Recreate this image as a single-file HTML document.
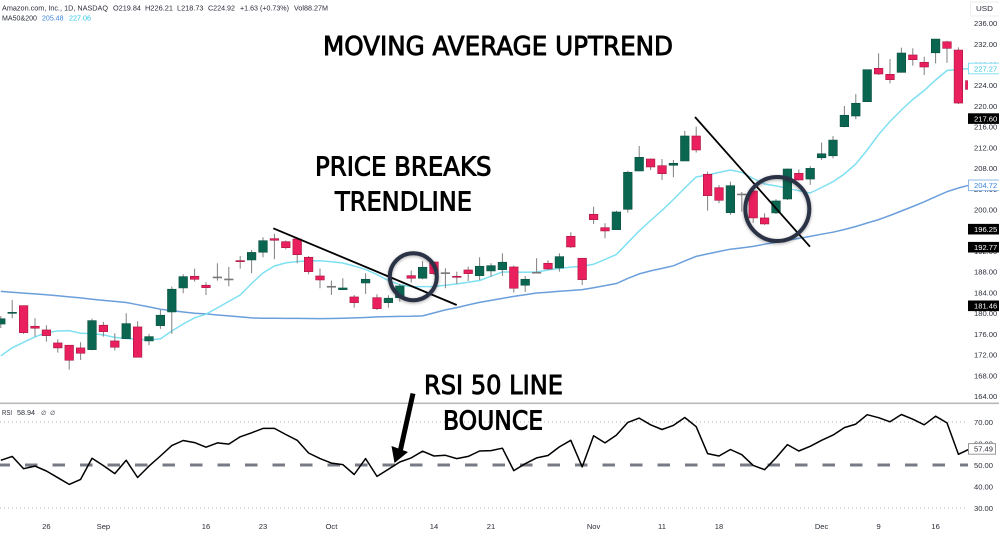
<!DOCTYPE html>
<html lang="en">
<head>
<meta charset="utf-8">
<title>Moving Average Uptrend</title>
<style>
html,body{margin:0;padding:0;background:#fff;width:999px;height:533px;overflow:hidden}
svg{display:block}
.ax{font-family:"Liberation Sans",sans-serif;font-size:7.6px;fill:#2a2e39}
.big{font-family:"DejaVu Sans","Liberation Sans",sans-serif;font-size:26px;fill:#000;stroke:#000;stroke-width:.9}
</style>
</head>
<body>
<svg id="chart" width="999" height="533" viewBox="0 0 999 533" xmlns="http://www.w3.org/2000/svg">
  <defs>
    <clipPath id="priceClip"><rect x="0" y="0" width="968" height="402"></rect></clipPath>
    <clipPath id="rsiClip"><rect x="0" y="405" width="968" height="110"></rect></clipPath>
    <filter id="ringShadow" x="-20%" y="-20%" width="140%" height="140%"><feDropShadow dx="0" dy="1" stdDeviation="1.5" flood-color="#000" flood-opacity="0.35"></feDropShadow></filter>
  </defs>
  <g id="priceAxis"></g>
  <g id="rsiAxis"></g>
  <g id="timeAxis"></g>
  <rect x="0" y="402.5" width="999" height="1.6" fill="#b8b8b8"></rect>
  <g id="maLines" clip-path="url(#priceClip)"></g>
  <g id="candles" clip-path="url(#priceClip)"></g>
  <g id="rsiPane" clip-path="url(#rsiClip)"></g>
  <g id="tags"></g>

  <rect x="970.5" y="2" width="29" height="14" fill="#fff" stroke="#eeeeee"></rect>
  <text class="ax" x="976" y="11" textLength="17" lengthAdjust="spacingAndGlyphs">USD</text>

  <g>
    <text class="ax" x="2" y="10.7" textLength="106" lengthAdjust="spacingAndGlyphs">Amazon.com, Inc., 1D, NASDAQ</text>
    <text class="ax" x="113" y="10.7" textLength="28" lengthAdjust="spacingAndGlyphs">O219.84</text>
    <text class="ax" x="145" y="10.7" textLength="28" lengthAdjust="spacingAndGlyphs">H226.21</text>
    <text class="ax" x="177" y="10.7" textLength="26.5" lengthAdjust="spacingAndGlyphs">L218.73</text>
    <text class="ax" x="208" y="10.7" textLength="27" lengthAdjust="spacingAndGlyphs">C224.92</text>
    <text class="ax" x="240" y="10.7" textLength="49" lengthAdjust="spacingAndGlyphs">+1.63 (+0.73%)</text>
    <text class="ax" x="294" y="10.7" textLength="34" lengthAdjust="spacingAndGlyphs">Vol88.27M</text>
    <text class="ax" x="2" y="20.7" textLength="35" lengthAdjust="spacingAndGlyphs">MA50&amp;200</text>
    <text class="ax" x="42" y="20.7" textLength="21.5" lengthAdjust="spacingAndGlyphs" style="fill:#3d85e0">205.48</text>
    <text class="ax" x="69" y="20.7" textLength="22" lengthAdjust="spacingAndGlyphs" style="fill:#2cc8ee">227.06</text>
    <text class="ax" x="2" y="415" textLength="10" lengthAdjust="spacingAndGlyphs">RSI</text>
    <text class="ax" x="17" y="415" textLength="18" lengthAdjust="spacingAndGlyphs">58.94</text>
    <text class="ax" x="41" y="415" style="font-family:'DejaVu Sans',sans-serif;font-size:6px">∅</text>
    <text class="ax" x="50" y="415" style="font-family:'DejaVu Sans',sans-serif;font-size:6px">∅</text>
  </g>

  <line x1="273.3" y1="228.3" x2="456.7" y2="305" stroke="#000" stroke-width="1.8"></line>
  <line x1="695" y1="117" x2="810" y2="246.7" stroke="#000" stroke-width="1.8"></line>
  <circle cx="413.3" cy="276.7" r="23.5" fill="none" stroke="#2b3044" stroke-width="4" filter="url(#ringShadow)"></circle>
  <circle cx="777.3" cy="209" r="32" fill="none" stroke="#2b3044" stroke-width="4" filter="url(#ringShadow)"></circle>

  <g>
    <line x1="413" y1="393.5" x2="400" y2="452" stroke="#000" stroke-width="5"></line>
    <polygon points="391.5,446 408,452 394.5,463" fill="#000"></polygon>
  </g>

  <text class="big" x="323" y="55" textLength="350" lengthAdjust="spacingAndGlyphs">MOVING AVERAGE UPTREND</text>
  <text class="big" x="315" y="175.7" textLength="176.5" lengthAdjust="spacingAndGlyphs">PRICE BREAKS</text>
  <text class="big" x="335" y="210.7" textLength="137" lengthAdjust="spacingAndGlyphs">TRENDLINE</text>
  <text class="big" x="424" y="394" textLength="139" lengthAdjust="spacingAndGlyphs">RSI 50 LINE</text>
  <text class="big" x="443" y="429.3" textLength="100" lengthAdjust="spacingAndGlyphs">BOUNCE</text>
</svg>
<script>
const opens = [177.94,180.0,181.49,177.51,176.8,174.29,173.85,173.33,173.0,177.71,174.68,175.12,177.38,174.68,177.63,180.27,184.91,187.16,185.43,187.03,186.64,190.18,190.31,191.8,194.42,193.84,194.36,190.83,187.22,185.23,184.58,183.17,185.87,183.03,182.07,183.03,187.28,186.78,189.92,187.86,187.16,188.38,187.28,188.19,188.44,188.96,185.43,187.94,189.67,188.77,194.88,190.64,199.13,196.54,196.16,200.09,207.49,209.8,208.51,208.59,209.42,214.24,206.85,204.26,199.44,203.05,203.63,198.42,199.39,202.08,207.04,205.93,210.04,210.42,216.04,218.1,220.86,227.31,226.15,226.53,229.88,228.47,230.3,232.43,230.83,224.92];
const highs = [179.49,182.6,181.49,179.06,177.71,175.0,173.85,174.43,178.98,178.34,176.16,180.02,178.48,176.03,180.66,185.16,187.55,188.63,186.01,189.67,188.96,191.08,192.24,194.69,195.38,194.08,194.69,191.08,188.63,186.32,186.78,183.55,187.74,183.69,183.5,185.68,188.25,190.12,190.02,188.71,188.05,189.02,190.83,189.67,191.6,189.21,187.22,190.64,190.25,191.6,195.66,190.7,200.6,197.39,199.82,207.54,212.31,209.9,209.8,209.61,215.21,216.03,207.35,204.78,205.42,203.43,203.82,199.32,202.03,207.97,207.78,208.43,212.99,214.22,220.03,222.33,227.04,230.2,229.1,231.29,231.17,229.55,232.95,232.62,231.35,224.98];
const lows = [177.17,179.06,176.03,175.51,174.54,172.42,169.14,171.01,172.88,175.51,172.81,175.06,171.53,173.85,177.0,176.03,183.88,186.12,183.55,186.32,185.23,188.63,187.74,190.83,190.45,192.37,189.67,187.55,184.85,183.55,184.52,181.1,183.75,180.66,181.1,182.26,185.93,186.58,187.42,184.85,185.68,186.26,186.45,187.09,187.22,184.0,184.13,187.74,188.38,188.05,192.63,185.48,197.26,194.5,196.1,199.44,207.49,207.68,205.75,206.27,209.42,211.04,199.83,201.25,199.0,199.63,197.45,197.07,199.19,201.89,205.65,204.79,209.61,209.94,215.92,217.47,220.8,226.01,224.41,226.53,227.81,226.01,228.25,228.38,220.41,223.24];
const closes = [178.96,180.2,176.28,177.13,175.7,173.33,170.95,172.3,178.6,176.47,173.46,178.02,171.53,175.51,179.64,184.66,187.09,186.58,184.96,187.03,186.64,189.98,191.76,194.03,194.11,192.68,191.33,188.05,186.45,185.23,184.9,182.07,186.58,180.91,182.92,185.29,186.78,188.9,187.67,187.86,186.97,187.67,189.09,189.21,189.87,184.85,186.58,187.94,188.57,190.95,192.82,186.51,198.09,195.91,199.57,207.23,210.13,208.26,206.97,208.97,214.24,211.54,202.72,201.83,204.65,203.05,198.42,197.26,201.7,207.87,205.75,207.99,210.81,213.45,218.24,220.55,227.04,226.21,225.11,230.26,228.97,227.56,232.95,231.16,220.6,223.24];
const maFast = [171.78,173.36,174.41,175.45,176.30,176.59,176.67,176.16,176.09,175.85,175.35,175.14,174.97,174.87,175.06,176.6,177.95,179.15,179.83,181.05,182.3,183.55,185.77,187.8,189.15,189.75,190.02,190.12,190.14,189.98,189.73,189.15,188.48,187.49,186.35,185.54,185.16,185.16,185.18,185.43,185.68,186.01,186.35,187.18,187.99,187.97,187.95,187.99,188.38,188.67,188.94,189.11,189.48,190.41,191.36,193.65,195.91,197.92,199.87,201.99,204.21,206.33,206.72,207.22,207.68,207.22,206.04,204.98,204.6,204.15,203.67,203.24,204.3,205.42,206.91,208.84,211.54,214.53,217.04,219.26,221.29,223.03,225.05,226.88,227.07,227.27];
const maSlow = [184.24,184.09,183.91,183.76,183.6,183.39,183.17,182.98,182.74,182.51,182.3,182.09,181.68,181.24,180.8,180.53,180.27,180.02,179.89,179.69,179.5,179.31,179.13,179.06,179.04,179.02,179.02,179.0,178.98,179.0,179.06,179.12,179.21,179.31,179.37,179.41,179.44,179.5,180.08,180.66,181.12,181.63,182.11,182.51,182.88,183.27,183.61,183.94,184.09,184.27,184.42,184.58,184.96,185.35,185.77,186.74,187.61,188.19,188.67,189.19,190.12,190.99,191.47,191.95,192.38,192.63,192.92,193.35,193.73,194.13,194.47,194.85,195.28,195.66,196.18,196.76,197.45,198.11,198.9,199.77,200.62,201.54,202.53,203.49,204.21,204.78];
const rsiValues = [52.2,54.0,48.3,49.5,47.2,44.1,41.0,43.3,53.1,49.7,46.0,52.2,44.2,49.5,54.2,59.0,61.4,60.4,58.3,60.3,59.7,63.1,65.0,67.0,67.0,64.2,61.5,55.6,53.0,50.9,50.2,45.6,53.0,44.7,48.0,51.4,53.3,56.4,54.2,54.5,53.0,54.0,56.5,56.7,57.8,47.4,50.6,53.3,54.4,58.4,61.5,49.1,63.6,60.3,63.9,69.8,71.8,68.7,66.5,68.4,72.1,67.8,55.3,54.2,57.2,54.8,49.8,47.8,53.3,59.5,56.5,58.7,61.5,63.9,67.4,69.0,73.4,72.0,70.1,73.5,71.3,68.7,72.7,69.6,55.0,57.49];
const priceTicks = [236,232,228,224,220,216,212,208,204,200,196,192,188,184,180,176,172,168,164];
const rsiTicks = [70,60,50,40,30];
const rsiGuides = [70,30];
const rsiMidline = 50;
const timeLabels = ["26","Sep","16","23","Oct","14","21","Nov","11","18","Dec","9","16"];
const timeBars = [4,9,18,23,29,38,43,52,58,63,72,77,82];
const darkTags = [217.60,196.25,192.77,181.46];
const maFastTag = 227.27;
const maSlowTag = 204.72;
const rsiTag = 57.49;

const NS = "http://www.w3.org/2000/svg";
function xBar(i){ return 0.8 + 11.4 * i; }
function yPrice(p){ return 44 + (232 - p) * 5.18; }
function yRsi(v){ return 465 - (v - 50) * 2.15; }
function mk(tag, attrs, parent){
  const el = document.createElementNS(NS, tag);
  for (const k in attrs) el.setAttribute(k, attrs[k]);
  parent.appendChild(el);
  return el;
}
function label(parent, x, y, txt, fill, anchor){
  const t = mk("text", {x: x, y: y, "class": "ax", "text-anchor": anchor || "start", "style": "fill:" + (fill || "#2a2e39")}, parent);
  t.textContent = txt;
  return t;
}
const gPriceAxis = document.getElementById("priceAxis");
const gRsiAxis = document.getElementById("rsiAxis");
const gTimeAxis = document.getElementById("timeAxis");
const gMa = document.getElementById("maLines");
const gCandles = document.getElementById("candles");
const gRsi = document.getElementById("rsiPane");
const gTags = document.getElementById("tags");

priceTicks.forEach(function(p){
  const t = label(gPriceAxis, 974, yPrice(p) + 2.8, p.toFixed(2));
  
  
});
rsiTicks.forEach(function(v){
  const t = label(gRsiAxis, 974, yRsi(v) + 2.8, v.toFixed(2));
  
  
});
timeLabels.forEach(function(s, k){
  const t = label(gTimeAxis, xBar(timeBars[k]), 529, s, "#2a2e39", "middle");
  
  
});

function linePath(vals, yFn){
  return vals.map(function(v, i){ return (i ? "L" : "M") + xBar(i).toFixed(1) + " " + yFn(v).toFixed(1); }).join(" ");
}
const slowLine = mk("path", {d: linePath(maSlow, yPrice), fill: "none", stroke: "#6a9fdc", "stroke-width": 1.5}, gMa);


const fastLine = mk("path", {d: linePath(maFast, yPrice), fill: "none", stroke: "#7fe0f2", "stroke-width": 1.5}, gMa);



opens.forEach(function(o, i){
  const c = closes[i], x = xBar(i);
  const up = c > o, flat = c === o;
  const fill = flat ? "#777777" : (up ? "#0b6651" : "#ea1f5e");
  const edge = flat ? "#777777" : (up ? "#0a4f40" : "#a5173f");
  const wick = mk("line", {x1: x, x2: x, y1: yPrice(highs[i]), y2: yPrice(lows[i]), stroke: "#808080", "stroke-width": 1}, gCandles);
  
  
  const top = yPrice(Math.max(o, c));
  const h = Math.max(Math.abs(yPrice(o) - yPrice(c)), 1);
  const body = mk("rect", {x: x - 4.3, y: top, width: 8.6, height: h, fill: fill, stroke: edge, "stroke-width": 0.6}, gCandles);
  
  
});

rsiGuides.forEach(function(v){
  const g = mk("line", {x1: 0, x2: 968, y1: yRsi(v), y2: yRsi(v), stroke: "#b5b5b5", "stroke-width": 1, "stroke-dasharray": "1 3"}, gRsi);
  
  
});
const mid = mk("line", {x1: -2.5, x2: 968, y1: yRsi(rsiMidline), y2: yRsi(rsiMidline), stroke: "#787b86", "stroke-width": 3, "stroke-dasharray": "12.5 15"}, gRsi);


const rsiLine = mk("path", {d: linePath(rsiValues, yRsi), fill: "none", stroke: "#000", "stroke-width": 1.5, "stroke-linejoin": "round"}, gRsi);



darkTags.forEach(function(p){
  const y = yPrice(p);
  const r = mk("rect", {x: 968, y: y - 5.3, width: 31, height: 10.6, fill: "#000"}, gTags);
  
  
  const t = label(gTags, 974, y + 2.8, p.toFixed(2), "#fff");
  
  
});
function outlinedTag(y, txt, col, stroke, w){
  const r = mk("rect", {x: 968.5, y: y - 5.3, width: w, height: 10.6, fill: "#fff", stroke: stroke, "stroke-width": 1}, gTags);
  
  
  const t = label(gTags, 974, y + 2.8, txt, col);
  
  
}
outlinedTag(yPrice(maFastTag), maFastTag.toFixed(2), "#3cc4e0", "#7fe0f2", 31);
outlinedTag(yPrice(maSlowTag), maSlowTag.toFixed(2), "#3d85e0", "#8fb8e8", 31);
outlinedTag(yRsi(rsiTag), rsiTag.toFixed(2), "#2a2e39", "#999999", 27);
</script>
</body>
</html>
